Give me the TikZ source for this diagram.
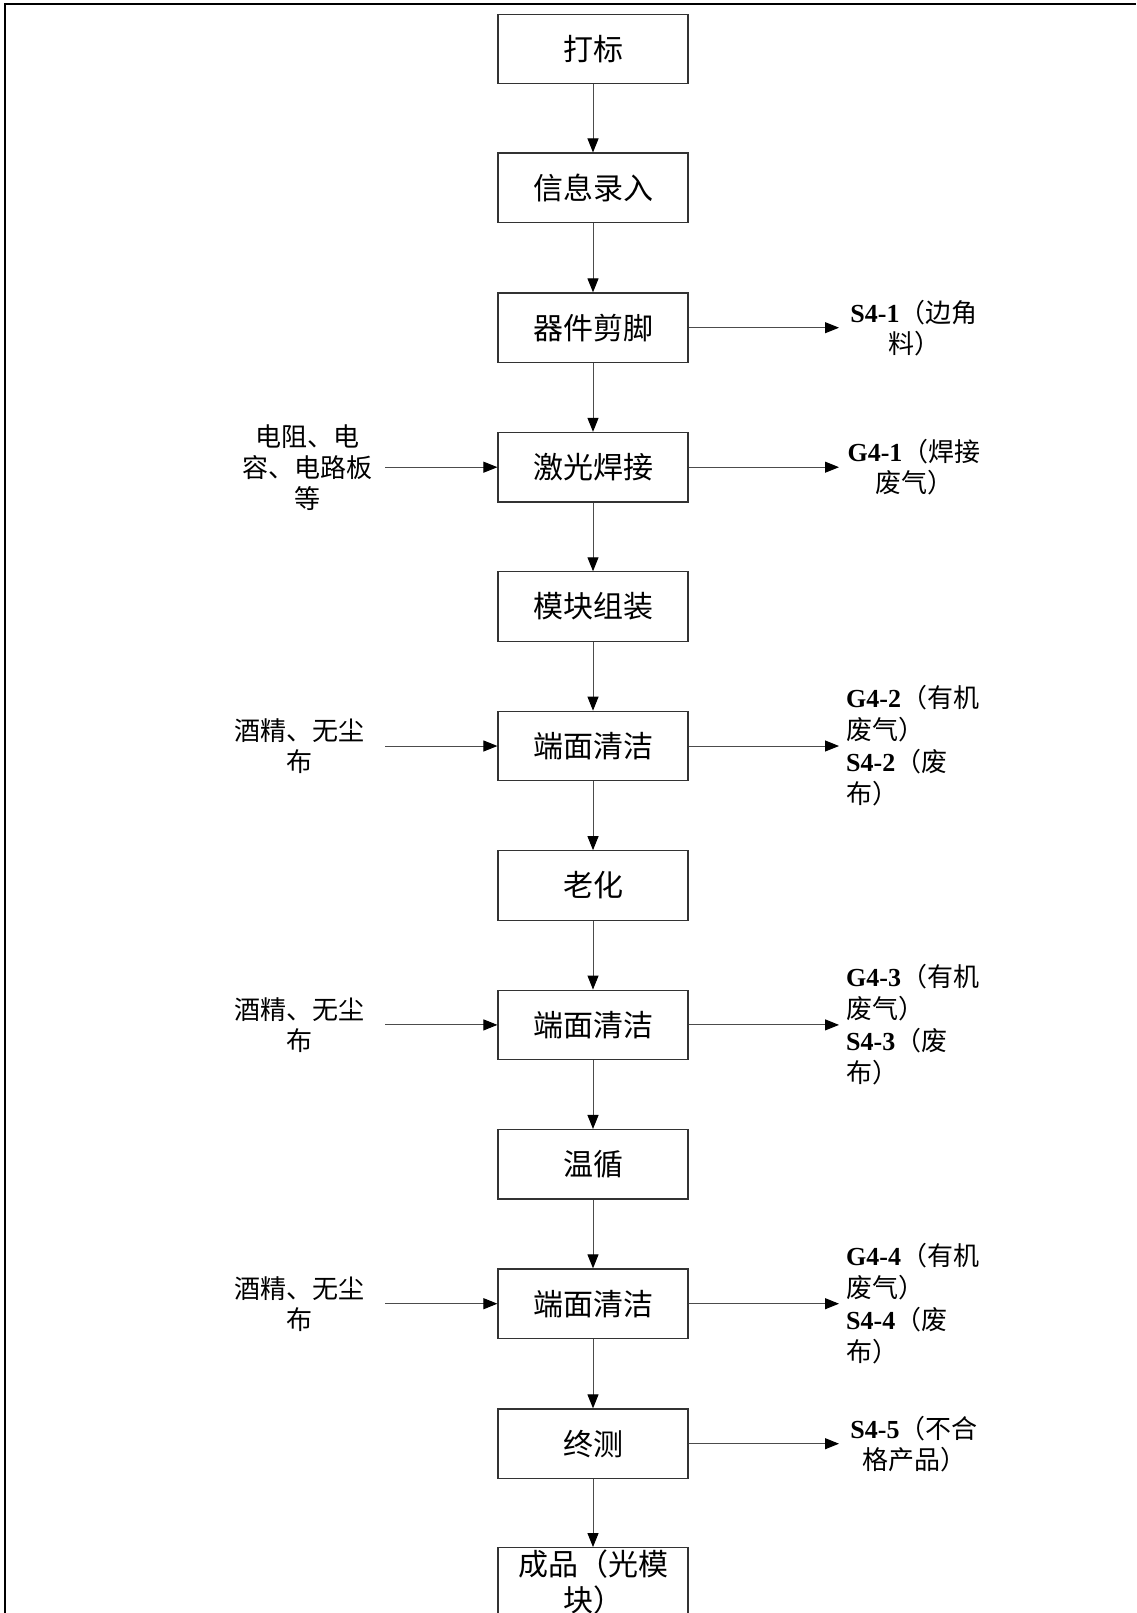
\documentclass[tikz,border=0pt]{standalone}
\usepackage{fontspec}
\setmainfont{Noto Sans CJK SC}
\newfontfamily\lat{Liberation Serif}
\usetikzlibrary{arrows.meta}
\newcommand{\code}[1]{{\lat\bfseries #1}}
\tikzset{
 box/.style={draw=black!80, line width=1.2pt, minimum width=190pt, minimum height=69.5pt, inner sep=0pt, font=\fontsize{30}{36}\selectfont, align=center},
 arr/.style={draw=black!70, line width=1pt, -{Triangle[width=11pt,length=14pt,color=black,fill=black]}},
 lab/.style={font=\fontsize{26}{31}\selectfont, inner sep=0pt, align=center},
 llab/.style={font=\fontsize{26}{32}\selectfont, inner sep=0pt, align=left, anchor=west},
}
\begin{document}
\begin{tikzpicture}[x=1pt,y=-1pt]
\clip (0,0) rectangle (1136,1613);
\fill[white] (0,0) rectangle (1136,1613);
\draw[line width=2pt] (5,1613) -- (5,4) -- (1136,4);
% process boxes
\node[box] (b1) at (593,48.9) {打标};
\node[box] (b2) at (593,187.8) {信息录入};
\node[box] (b3) at (593,327.7) {器件剪脚};
\node[box] (b4) at (593,467.2) {激光焊接};
\node[box] (b5) at (593,606.6) {模块组装};
\node[box] (b6) at (593,746) {端面清洁};
\node[box] (b7) at (593,885.5) {老化};
\node[box] (b8) at (593,1024.9) {端面清洁};
\node[box] (b9) at (593,1164.3) {温循};
\node[box] (b10) at (593,1303.7) {端面清洁};
\node[box] (b11) at (593,1443.7) {终测};
\node[box] (b12) at (593,1582.4) {成品（光模\\块）};
\foreach \a/\b in {b1/b2,b2/b3,b3/b4,b4/b5,b5/b6,b6/b7,b7/b8,b8/b9,b9/b10,b10/b11,b11/b12}
  \draw[arr] (\a) -- (\b);
% right outputs
\coordinate (r3) at (839,327.7);
\coordinate (r4) at (839,467.2);
\coordinate (r6) at (839,746);
\coordinate (r8) at (839,1024.9);
\coordinate (r10) at (839,1303.7);
\coordinate (r11) at (839,1443.7);
\node[lab] (o3) at (914,327.7) {\code{S4-1}（边角\\料）};
\node[lab] (o4) at (914,467.2) {\code{G4-1}（焊接\\废气）};
\node[llab] (o6) at (846,746) {\code{G4-2}（有机\\废气）\\\code{S4-2}（废\\布）};
\node[llab] (o8) at (846,1024.9) {\code{G4-3}（有机\\废气）\\\code{S4-3}（废\\布）};
\node[llab] (o10) at (846,1303.7) {\code{G4-4}（有机\\废气）\\\code{S4-4}（废\\布）};
\node[lab] (o11) at (914,1443.7) {\code{S4-5}（不合\\格产品）};
\foreach \n in {3,4,6,8,10,11}
  \draw[arr] (b\n) -- (r\n);
% left inputs
\coordinate (l4) at (385,467.2);
\coordinate (l6) at (385,746);
\coordinate (l8) at (385,1024.9);
\coordinate (l10) at (385,1303.7);
\node[lab] (i4) at (307,467.2) {电阻、电\\容、电路板\\等};
\node[lab] (i6) at (299,746) {酒精、无尘\\布};
\node[lab] (i8) at (299,1024.9) {酒精、无尘\\布};
\node[lab] (i10) at (299,1303.7) {酒精、无尘\\布};
\foreach \n in {4,6,8,10}
  \draw[arr] (l\n) -- (b\n);
\end{tikzpicture}
\end{document}
